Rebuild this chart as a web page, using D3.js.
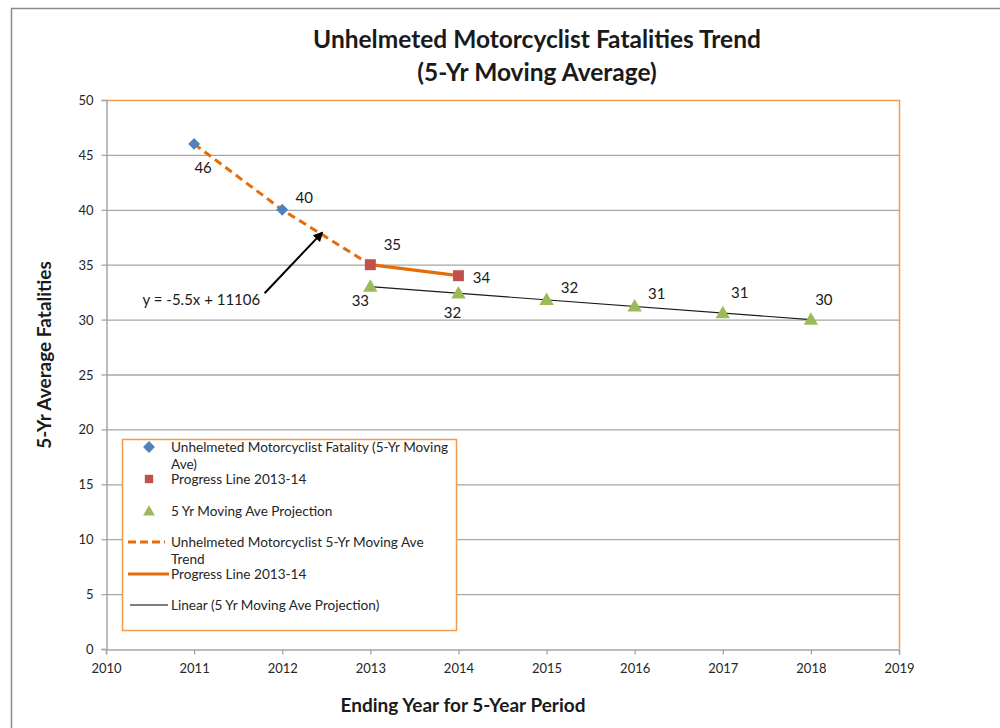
<!DOCTYPE html>
<html>
<head>
<meta charset="utf-8">
<script src="https://cdn.jsdelivr.net/npm/d3@7"></script>
<style>
  body { margin: 0; background: #fff; }
  text { font-family: Lato, "Open Sans", sans-serif; fill: #1a1a1a; }
</style>
</head>
<body>
<div id="chart"></div>
<script>
// data
const fatalityYears = [2011, 2012];
const fatalityValues = [46, 40];
const progressYears = [2013, 2014];
const progressValues = [35, 34];
const projectionYears = [2013, 2014, 2015, 2016, 2017, 2018];
const projectionValues = [33.0, 32.4, 31.8, 31.2, 30.6, 30.0];
const projectionLabels = ["33", "32", "32", "31", "31", "30"];
const trendYears = [2011, 2012, 2013];
const trendValues = [46, 40, 35];
const linearYears = [2013, 2018];
const linearValues = [33, 30];
const yTicks = [0, 5, 10, 15, 20, 25, 30, 35, 40, 45, 50];
const xTicks = [2010, 2011, 2012, 2013, 2014, 2015, 2016, 2017, 2018, 2019];
const legendLabels = [
    ["Unhelmeted Motorcyclist Fatality (5-Yr Moving", "Ave)"],
    ["Progress Line 2013-14"],
    ["5 Yr Moving Ave Projection"],
    ["Unhelmeted Motorcyclist 5-Yr Moving Ave", "Trend"],
    ["Progress Line 2013-14"],
    ["Linear (5 Yr Moving Ave Projection)"]
];

const ORANGE = "#e46c0a";
const BORDER = "#f39a4e";
const BLUE = "#4f81bd";
const RED = "#c0504d";
const GREEN = "#9bbb59";
const GRID = "#a6a6a6";

renderChart("#chart");

function renderChart(parent) {
    const wSvg = 1000;
    const hSvg = 728;
    const left = 106, right = 899, top = 100, bottom = 649;

    const svg = d3.select(parent)
        .append("svg")
        .attr("width", wSvg)
        .attr("height", hSvg);

    // outer chart frame
    svg.append("rect")
        .attr("x", 11.5).attr("y", 8.5)
        .attr("width", 1000).attr("height", 800)
        .attr("fill", "#fff")
        .attr("stroke", "#8c8c8c")
        .attr("stroke-width", 1.5);

    // Scales
    const xScale = d3.scaleLinear([2010, 2019], [left, right]);
    const yScale = d3.scaleLinear([0, 50], [bottom, top]);

    // grid
    svg.append("g")
        .selectAll("line")
        .data(yTicks.filter(d => d > 0 && d < 50))
        .enter()
        .append("line")
        .attr("x1", left).attr("x2", right)
        .attr("y1", d => yScale(d) + 0.5).attr("y2", d => yScale(d) + 0.5)
        .attr("stroke", GRID)
        .attr("stroke-width", 1.3);

    // plot border, orange on top and right
    svg.append("path")
        .attr("d", `M${left},${top + 0.5}H${right + 0.5}V${bottom}`)
        .attr("fill", "none")
        .attr("stroke", BORDER)
        .attr("stroke-width", 1.5);

    // Axis
    const xAxis = svg.append("g")
        .attr("transform", `translate(0, ${bottom + 0.5})`)
        .call(d3.axisBottom(xScale).tickValues(xTicks).tickFormat(d3.format("d")).tickSize(5).tickPadding(9));
    const yAxis = svg.append("g")
        .attr("transform", `translate(${left + 0.5}, 0)`)
        .call(d3.axisLeft(yScale).tickValues(yTicks).tickSize(5).tickPadding(8));
    for (let ax of [xAxis, yAxis]) {
        ax.select(".domain").attr("stroke", GRID).attr("stroke-width", 1.5);
        ax.selectAll(".tick line").attr("stroke", GRID).attr("stroke-width", 1.3);
        ax.selectAll(".tick text")
            .attr("font-family", "Lato, sans-serif")
            .attr("font-size", 13)
            .style("fill", "#262626");
    }
    yAxis.selectAll(".tick text").attr("dy", "0.35em");

    // Lines
    const line = d3.line().x(d => xScale(d[0])).y(d => yScale(d[1]));
    svg.append("path")
        .attr("d", line(d3.zip(trendYears, trendValues)))
        .attr("fill", "none").attr("stroke", ORANGE)
        .attr("stroke-width", 3).attr("stroke-dasharray", "8,5");
    svg.append("path")
        .attr("d", line(d3.zip(progressYears, progressValues)))
        .attr("fill", "none").attr("stroke", ORANGE)
        .attr("stroke-width", 3.2);
    svg.append("path")
        .attr("d", line(d3.zip(linearYears, linearValues)))
        .attr("fill", "none").attr("stroke", "#1a1a1a")
        .attr("stroke-width", 1.1);

    // Markers
    const diamond = d3.symbol(d3.symbolDiamond2, 90);
    const square = d3.symbol(d3.symbolSquare, 120);
    const triangle = d3.symbol(d3.symbolTriangle, 90);

    svg.append("g").selectAll("path")
        .data(d3.zip(fatalityYears, fatalityValues))
        .enter().append("path")
        .attr("d", diamond)
        .attr("transform", d => `translate(${xScale(d[0])},${yScale(d[1])})`)
        .attr("fill", BLUE);
    svg.append("g").selectAll("path")
        .data(d3.zip(progressYears, progressValues))
        .enter().append("path")
        .attr("d", square)
        .attr("transform", d => `translate(${xScale(d[0])},${yScale(d[1])})`)
        .attr("fill", RED);
    svg.append("g").selectAll("path")
        .data(d3.zip(projectionYears, projectionValues))
        .enter().append("path")
        .attr("d", triangle)
        .attr("transform", d => `translate(${xScale(d[0])},${yScale(d[1]) + 1})`)
        .attr("fill", GREEN);

    // Data labels (offsets in px from the marker)
    const fatalityOffsets = [[9, 24], [22, -12]];
    const progressOffsets = [[22, -20], [23, 2]];
    const projectionOffsets = [[-10, 14], [-6, 20], [23, -12], [22, -13], [17, -20], [13, -20]];
    const labelData = [];
    fatalityYears.forEach((y, i) => labelData.push([y, fatalityValues[i], String(fatalityValues[i]), fatalityOffsets[i]]));
    progressYears.forEach((y, i) => labelData.push([y, progressValues[i], String(progressValues[i]), progressOffsets[i]]));
    projectionYears.forEach((y, i) => labelData.push([y, projectionValues[i], projectionLabels[i], projectionOffsets[i]]));
    svg.append("g").selectAll("text")
        .data(labelData)
        .enter().append("text")
        .attr("x", d => xScale(d[0]) + d[3][0])
        .attr("y", d => yScale(d[1]) + d[3][1])
        .attr("dy", "0.35em")
        .attr("text-anchor", "middle")
        .attr("font-size", 15)
        .text(d => d[2]);

    // Trend equation with arrow
    svg.append("defs").append("marker")
        .attr("id", "arrow")
        .attr("viewBox", "0 0 10 10")
        .attr("refX", 8).attr("refY", 5)
        .attr("markerWidth", 5).attr("markerHeight", 5)
        .attr("orient", "auto")
        .append("path")
        .attr("d", "M0,0L10,5L0,10z")
        .attr("fill", "#000");
    svg.append("line")
        .attr("x1", xScale(2011.8)).attr("y1", yScale(32.4))
        .attr("x2", xScale(2012.45)).attr("y2", yScale(37.9))
        .attr("stroke", "#000").attr("stroke-width", 2)
        .attr("marker-end", "url(#arrow)");
    svg.append("text")
        .attr("x", xScale(2011.75)).attr("y", yScale(31.8))
        .attr("dy", "0.35em")
        .attr("text-anchor", "end")
        .attr("font-size", 15)
        .text("y = -5.5x + 11106");

    // Titles
    svg.append("text")
        .attr("x", 537).attr("y", 48)
        .attr("text-anchor", "middle")
        .attr("font-size", 24.5).attr("font-weight", "bold")
        .text("Unhelmeted Motorcyclist Fatalities Trend");
    svg.append("text")
        .attr("x", 537).attr("y", 81)
        .attr("text-anchor", "middle")
        .attr("font-size", 24.5).attr("font-weight", "bold")
        .text("(5-Yr Moving Average)");
    svg.append("text")
        .attr("x", 463).attr("y", 712)
        .attr("text-anchor", "middle")
        .attr("font-size", 19).attr("font-weight", "bold")
        .text("Ending Year for 5-Year Period");
    svg.append("text")
        .attr("transform", "translate(51, 355) rotate(-90)")
        .attr("text-anchor", "middle")
        .attr("font-size", 19).attr("font-weight", "bold")
        .text("5-Yr Average Fatalities");

    // Legend
    const legend = svg.append("g").attr("transform", "translate(122, 439)");
    legend.append("rect")
        .attr("x", 0.5).attr("y", 0.5)
        .attr("width", 334).attr("height", 191)
        .attr("fill", "#fff")
        .attr("stroke", BORDER).attr("stroke-width", 1.5);
    const rowY = [8, 40, 72, 103, 135, 166];
    legend.append("path").attr("d", diamond).attr("transform", `translate(27,${rowY[0]})`).attr("fill", BLUE);
    legend.append("path").attr("d", d3.symbol(d3.symbolSquare, 70)).attr("transform", `translate(27,${rowY[1]})`).attr("fill", RED);
    legend.append("path").attr("d", d3.symbol(d3.symbolTriangle, 60)).attr("transform", `translate(27,${rowY[2] + 1})`).attr("fill", GREEN);
    legend.append("line").attr("x1", 6).attr("x2", 43).attr("y1", rowY[3]).attr("y2", rowY[3])
        .attr("stroke", ORANGE).attr("stroke-width", 3).attr("stroke-dasharray", "8,4");
    legend.append("line").attr("x1", 6).attr("x2", 47).attr("y1", rowY[4]).attr("y2", rowY[4])
        .attr("stroke", ORANGE).attr("stroke-width", 3.2);
    legend.append("line").attr("x1", 8).attr("x2", 46).attr("y1", rowY[5]).attr("y2", rowY[5])
        .attr("stroke", "#000").attr("stroke-width", 1.1);
    legendLabels.forEach((lines, i) => {
        const t = legend.append("text")
            .attr("x", 49).attr("y", rowY[i])
            .attr("font-size", 13.6)
            .style("fill", "#262626");
        lines.forEach((s, j) => t.append("tspan").attr("x", 49).attr("dy", j == 0 ? "0.35em" : 17).text(s));
    });
}
</script>
</body>
</html>
